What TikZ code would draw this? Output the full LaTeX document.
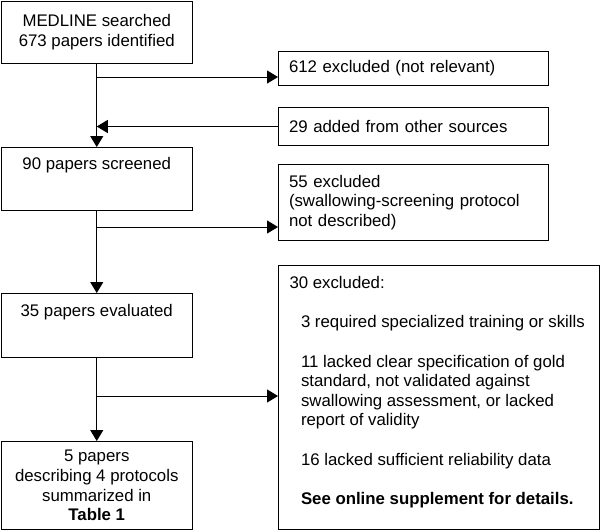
\documentclass[tikz,border=0pt]{standalone}
\usepackage{fontspec}
\setmainfont{Liberation Sans}
\usetikzlibrary{arrows.meta}

\tikzset{
  box/.style={draw, line width=1pt, anchor=north west, inner sep=0pt,
    font=\fontsize{16.8}{19.6}\selectfont},
  arr/.style={-{Triangle[length=11pt,width=13pt]}, line width=1pt},
}

\begin{document}
\begin{tikzpicture}[x=1pt, y=-1pt]
\useasboundingbox (0,0) rectangle (600,530);
% 左列
\node[box, minimum width=191.5pt, minimum height=62.5pt, align=center] (medline) at (0.5,0.5)
  {MEDLINE searched\\673 papers identified};
\node[box, minimum width=191.5pt, inner ysep=10pt] (screened) at (0.5,147)
  {\parbox[c][43pt][t]{191.5pt}{\centering 90 papers screened}};
\node[box, minimum width=191.5pt, inner ysep=11pt] (evaluated) at (0.5,293)
  {\parbox[c][42pt][t]{191.5pt}{\centering 35 papers evaluated}};
\node[box, minimum width=191.5pt, minimum height=88pt, align=center] (final) at (0.5,441)
  {5 papers\\describing 4 protocols\\summarized in\\\textbf{Table 1}};

% 右列
\node[box, minimum width=270pt, minimum height=33.5pt, inner xsep=10.5pt, text width=249pt, align=left] (excl1) at (278,51)
  {612 excluded (not relevant)};
\node[box, minimum width=270pt, minimum height=38pt, inner xsep=10.5pt, text width=249pt, align=left] (added) at (278,107)
  {29 added from other sources};
\node[box, minimum width=270pt, minimum height=76pt, inner xsep=10.5pt, text width=249pt, align=left] (excl2) at (278,164)
  {55 excluded\\(swallowing-screening protocol\\not described)};
\node[box, minimum width=321pt, inner ysep=11pt] (excl3) at (278,265)
  {\parbox[c][242pt][t]{321pt}{\raggedright\leftskip=11pt
    30 excluded:\par
    \leftskip=22.5pt\vspace{\baselineskip}
    3 required specialized training or skills\par
    \vspace{\baselineskip}
    11 lacked clear specification of gold\\
    standard, not validated against\\
    swallowing assessment, or lacked\\
    report of validity\par
    \vspace{\baselineskip}
    16 lacked sufficient reliability data\par
    \vspace{\baselineskip}
    \textbf{See online supplement for details.}}};

% 箭头
\coordinate (j1) at (96.25,77);
\coordinate (j2) at (96.25,227);
\coordinate (j3) at (96.25,396);
\draw[arr] (medline.south) -- (screened.north);
\draw[arr] (j1) -- (j1 -| excl1.west);
\draw[arr] (added.west) -- (added.west -| medline.south);
\draw[arr] (screened.south) -- (evaluated.north);
\draw[arr] (j2) -- (j2 -| excl2.west);
\draw[arr] (evaluated.south) -- (final.north);
\draw[arr] (j3) -- (j3 -| excl3.west);
\end{tikzpicture}
\end{document}
